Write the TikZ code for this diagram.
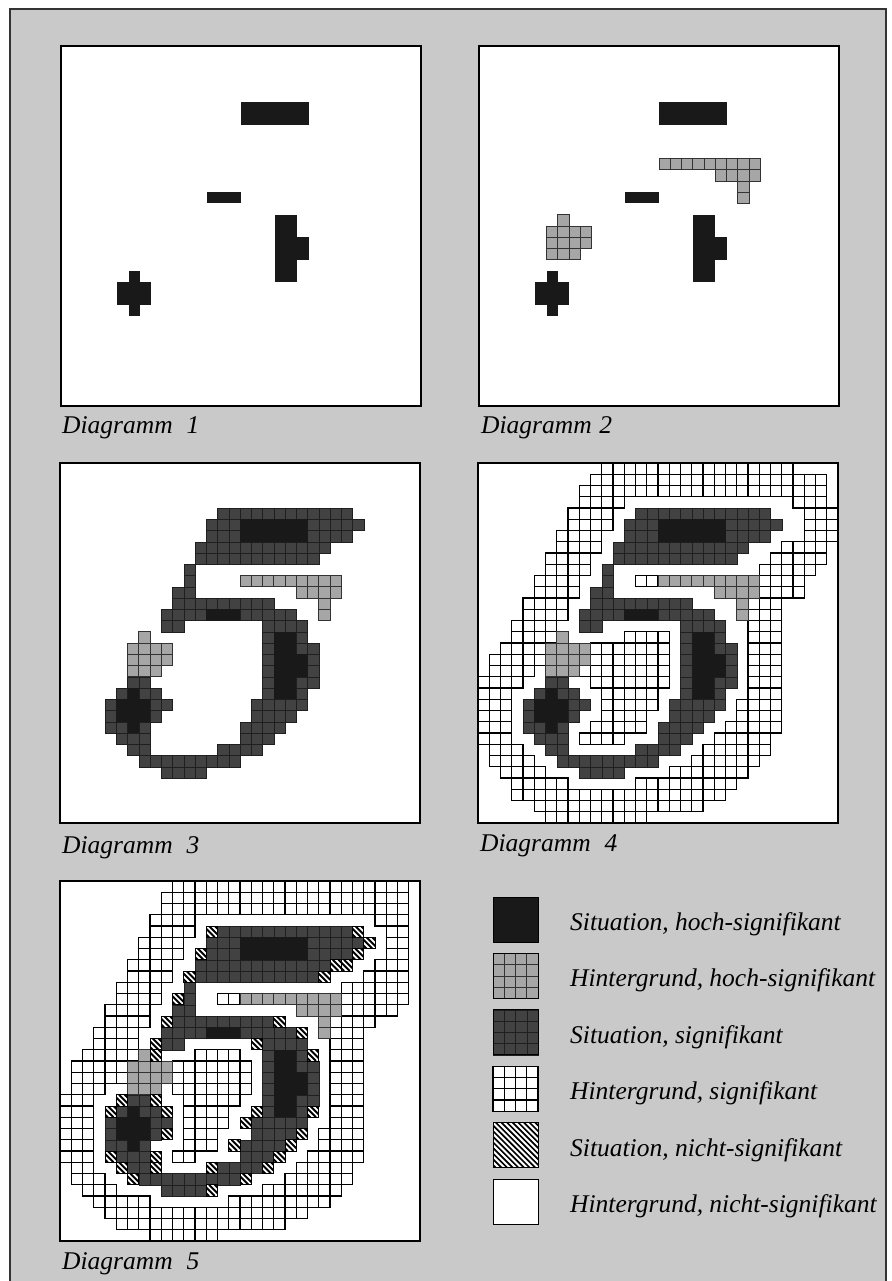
\documentclass[tikz,border=0pt]{standalone}
\usepackage{fontspec}
\setmainfont{Liberation Serif}
\usepackage{tikz}

\definecolor{bgtex}{RGB}{201,201,201}

\tikzset{
  hochsit/.style={fill=black!90},
  sigsit/.style={fill=black!74, draw=black!88, line width=0.4pt},
  hochbg/.style={fill=black!35, draw=black!80, line width=0.8pt},
  sigbg/.style={fill=white, draw=black, line width=1.3pt},
  panelbox/.style={draw=black, line width=2pt},
  swatchbox/.style={draw=black, line width=1pt},
  cellgrid/.style={x=11.25pt, y=-11.25pt},
  diaglabel/.style={font=\fontsize{25.5}{30}\selectfont\itshape, inner sep=0pt, anchor=base west},
  legtext/.style={font=\fontsize{25.5}{30}\selectfont\itshape, inner sep=0pt, anchor=base west}
}

% Situation, signifikant
\newcommand{\sitcells}{%
  \foreach \ry/\xa/\xb in {4/14/25, 5/13/26, 6/13/25, 7/12/23, 8/12/22, 9/11/11, 10/11/11,
      11/10/11, 12/10/18, 13/9/20, 14/9/10, 14/18/21, 15/18/21, 16/18/22, 17/18/22,
      18/18/22, 19/6/7, 19/18/22, 20/5/8, 20/18/21, 21/4/9, 21/17/21, 22/4/8, 22/17/20,
      23/4/7, 23/16/19, 24/5/7, 24/16/18, 25/6/7, 25/14/17, 26/7/15, 27/9/12}
    \foreach \xc in {\xa,...,\xb}
      \draw[sigsit] (\xc,\ry) rectangle ++(1,1);
}

% Situation, hoch-signifikant
\newcommand{\hochcells}{%
  \foreach \ry/\xa/\xb in {5/16/21, 6/16/21, 13/13/15, 15/19/20, 16/19/20, 17/19/21,
      18/19/21, 19/19/20, 20/19/20, 20/6/6, 21/5/7, 22/5/7, 23/6/6}
    \fill[hochsit] (\xa,\ry) rectangle (\xb+1,\ry+1);
}

% Hintergrund, hoch-signifikant
\newcommand{\bgcells}{%
  \foreach \ry/\xa/\xb in {10/16/24, 11/21/24, 12/23/23, 13/23/23, 15/7/7, 16/6/9,
      17/6/9, 18/6/8}
    \foreach \xc in {\xa,...,\xb}
      \draw[hochbg] (\xc,\ry) rectangle ++(1,1);
}

% Hintergrund, signifikant
\newcommand{\bandcells}[1]{%
  \foreach \ry/\xa/\xb in {#1}
    \foreach \xc in {\xa,...,\xb}
      \draw[sigbg] (\xc,\ry) rectangle ++(1,1);
}

% Situation, nicht-signifikant
\newcommand{\hatchcell}[2]{%
  \begin{scope}
    \clip (#1,#2) rectangle ++(1,1);
    \fill[white] (#1,#2) rectangle ++(1,1);
    \foreach \sh in {-0.75,-0.25,0.25,0.75}
      \draw[line width=2pt] (#1+\sh,#2) -- ++(1,1);
  \end{scope}
  \draw[line width=0.6pt] (#1,#2) rectangle ++(1,1);
}

\begin{document}
\begin{tikzpicture}[x=1pt, y=-1pt]
  \useasboundingbox (0,0) rectangle (891,1281);
  \fill[white] (0,0) rectangle (891,1281);
  \fill[bgtex] (10,9) rectangle (886,1281);
  \draw[line width=2pt, black!80] (10,1281) -- (10,9) -- (886,9) -- (886,1281);

  % Diagramm 1
  \begin{scope}[shift={(61,46)}, cellgrid]
    \fill[white] (0,0) rectangle (32,32);
    \hochcells
    \draw[panelbox] (0,0) rectangle (32,32);
  \end{scope}
  \node[diaglabel] (d1) at (62,433) {Diagramm\hspace{0.55em}1};

  % Diagramm 2
  \begin{scope}[shift={(479,46)}, cellgrid]
    \fill[white] (0,0) rectangle (32,32);
    \bgcells
    \hochcells
    \draw[panelbox] (0,0) rectangle (32,32);
  \end{scope}
  \node[diaglabel] (d2) at (481,433) {Diagramm\hspace{0.3em}2};

  % Diagramm 3
  \begin{scope}[shift={(60,463)}, cellgrid]
    \fill[white] (0,0) rectangle (32,32);
    \bgcells
    \sitcells
    \hochcells
    \draw[panelbox] (0,0) rectangle (32,32);
  \end{scope}
  \node[diaglabel] (d3) at (62,853) {Diagramm\hspace{0.55em}3};

  % Diagramm 4
  \begin{scope}[shift={(478,463)}, cellgrid]
    \fill[white] (0,0) rectangle (32,32);
    \bandcells{0/11/27, 1/10/30, 2/9/30, 3/9/12, 3/28/30, 4/8/11, 4/29/31, 5/8/11, 5/29/31,
      6/7/10, 6/29/31, 7/7/10, 7/27/30, 8/6/9, 8/26/30, 9/6/9, 9/25/29, 10/5/8, 10/14/15,
      10/25/28, 11/5/8, 11/25/28, 12/4/7, 12/24/26, 13/4/7, 13/24/26, 14/3/6, 14/24/26,
      15/3/6, 15/13/16, 15/24/26, 16/2/5, 16/10/16, 16/24/26, 17/1/5, 17/10/16, 17/24/26,
      18/1/4, 18/9/16, 18/24/26, 19/0/3, 19/10/16, 19/24/26, 20/0/2, 20/11/15, 20/24/26,
      21/0/2, 21/11/15, 21/23/26, 22/0/2, 22/11/14, 22/23/26, 23/0/2, 23/10/14, 23/22/26,
      24/0/2, 24/9/12, 24/21/25, 25/1/3, 25/20/25, 26/1/4, 26/19/24, 27/2/5, 27/17/23,
      28/3/7, 28/14/22, 29/3/21, 30/5/19, 31/6/14}
    \bgcells
    \sitcells
    \hochcells
    \draw[panelbox] (0,0) rectangle (32,32);
  \end{scope}
  \node[diaglabel] (d4) at (480,851) {Diagramm\hspace{0.55em}4};

  % Diagramm 5
  \begin{scope}[shift={(60,881)}, cellgrid]
    \fill[white] (0,0) rectangle (32,32);
    \bandcells{0/10/30, 1/9/30, 2/9/30, 3/8/11, 3/28/30, 4/8/11, 4/29/30, 5/7/10, 5/29/30,
      6/7/10, 6/29/30, 7/6/9, 7/28/30, 8/6/9, 8/27/30, 9/5/8, 9/25/30, 10/5/8, 10/14/15,
      10/25/30, 11/4/7, 11/25/29, 12/4/7, 12/24/27, 13/3/6, 13/24/26, 14/3/6, 14/24/26,
      15/2/6, 15/12/15, 15/24/26, 16/1/5, 16/10/16, 16/24/26, 17/1/5, 17/10/16, 17/24/26,
      18/1/3, 18/10/16, 18/24/26, 19/0/2, 19/11/15, 19/24/26, 20/0/2, 20/11/14, 20/24/26,
      21/0/2, 21/11/14, 21/24/26, 22/0/2, 22/11/13, 22/23/26, 23/0/2, 23/11/13, 23/23/26,
      24/0/2, 24/10/11, 24/22/26, 25/1/2, 25/21/25, 26/1/3, 26/20/25, 27/2/4, 27/18/24,
      28/3/7, 28/15/23, 29/4/21, 30/5/19, 31/8/13}
    \bgcells
    \sitcells
    \hochcells
    \foreach \xc/\ry in {13/4, 26/4, 27/5, 12/6, 26/6, 24/7, 25/7, 11/8, 23/8, 10/10, 9/12,
        19/12, 21/13, 8/14, 17/14, 8/15, 22/15, 17/20, 22/20, 16/21, 21/22, 15/23, 20/23,
        19/24, 13/25, 18/25, 16/26, 13/27, 5/19, 8/19, 4/20, 9/20, 9/22, 4/24, 8/24, 5/25,
        8/25, 6/26}
      \hatchcell{\xc}{\ry};
    \draw[panelbox] (0,0) rectangle (32,32);
  \end{scope}
  \node[diaglabel] (d5) at (62,1269) {Diagramm\hspace{0.55em}5};

  % Legend
  \begin{scope}[shift={(493,897)}, cellgrid]
    \fill[hochsit] (0,0) rectangle (4,4);
    \draw[swatchbox] (0,0) rectangle (4,4);
  \end{scope}
  \begin{scope}[shift={(493,953.4)}, cellgrid]
    \foreach \xc in {0,...,3}
      \foreach \ry in {0,...,3}
        \draw[hochbg] (\xc,\ry) rectangle ++(1,1);
    \draw[swatchbox] (0,0) rectangle (4,4);
  \end{scope}
  \begin{scope}[shift={(493,1009.8)}, cellgrid]
    \foreach \xc in {0,...,3}
      \foreach \ry in {0,...,3}
        \draw[sigsit] (\xc,\ry) rectangle ++(1,1);
    \draw[swatchbox] (0,0) rectangle (4,4);
  \end{scope}
  \begin{scope}[shift={(493,1066.2)}, cellgrid]
    \foreach \xc in {0,...,3}
      \foreach \ry in {0,...,3}
        \draw[sigbg] (\xc,\ry) rectangle ++(1,1);
    \draw[swatchbox] (0,0) rectangle (4,4);
  \end{scope}
  \begin{scope}[shift={(493,1122.6)}, cellgrid]
    \begin{scope}
      \clip (0,0) rectangle (4,4);
      \fill[white] (0,0) rectangle (4,4);
      \foreach \sh in {-3.75,-3.25,...,3.75}
        \draw[line width=1.7pt] (\sh,0) -- ++(4,4);
    \end{scope}
    \draw[swatchbox] (0,0) rectangle (4,4);
  \end{scope}
  \begin{scope}[shift={(493,1179)}, cellgrid]
    \fill[white] (0,0) rectangle (4,4);
    \draw[swatchbox] (0,0) rectangle (4,4);
  \end{scope}

  \node[legtext] (t1) at (570,930.5) {Situation, hoch-signifikant};
  \node[legtext] (t2) at (570,986.9) {Hintergrund, hoch-signifikant};
  \node[legtext] (t3) at (570,1043.3) {Situation, signifikant};
  \node[legtext] (t4) at (570,1099.7) {Hintergrund, signifikant};
  \node[legtext] (t5) at (570,1156.1) {Situation, nicht-signifikant};
  \node[legtext] (t6) at (570,1212.5) {Hintergrund, nicht-signifikant};
\end{tikzpicture}
\end{document}
